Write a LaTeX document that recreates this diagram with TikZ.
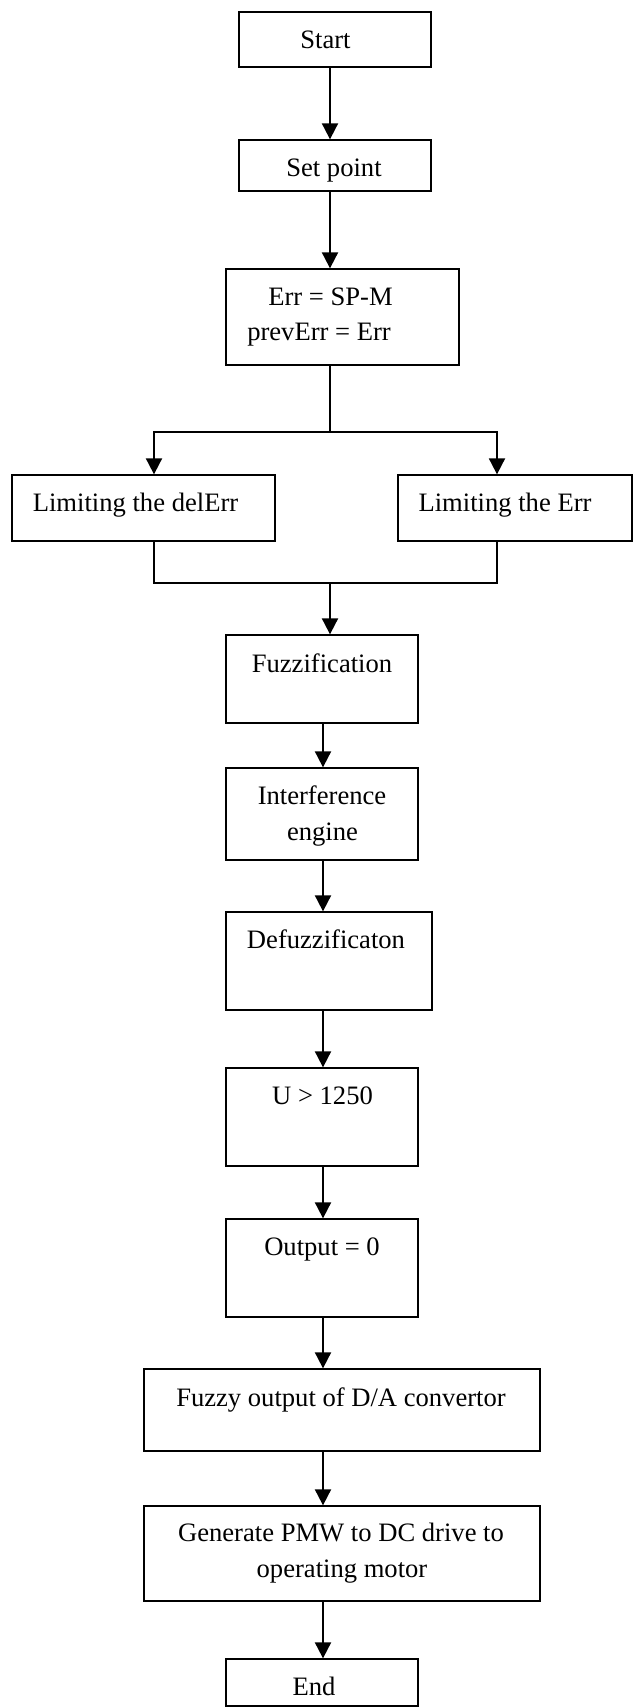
\documentclass[tikz,border=0pt]{standalone}
\usepackage{fontspec}
\setmainfont{Liberation Serif}
\usetikzlibrary{arrows.meta}
\begin{document}
\begin{tikzpicture}[x=0.5pt,y=-0.5pt,
 box/.style={draw,line width=0.65pt,inner sep=0pt,anchor=center},
 txt/.style={font=\fontsize{13.3pt}{18pt}\selectfont,inner sep=0pt,anchor=base},
 arr/.style={line width=0.95pt,-{Triangle[length=8pt,width=8pt]}},
 ln/.style={line width=0.85pt}]
\useasboundingbox (0,0) rectangle (633,1708);
% boxes
\node[box,minimum width=96pt,minimum height=27.5pt] (start) at (335,39.5) {};
\node[box,minimum width=96pt,minimum height=25.5pt] (setpt) at (335,165.5) {};
\node[box,minimum width=116.5pt,minimum height=48pt] (err) at (342.5,317) {};
\node[box,minimum width=131.5pt,minimum height=33pt] (ld) at (143.5,508) {};
\node[box,minimum width=117pt,minimum height=33pt] (le) at (515,508) {};
\node[box,minimum width=96pt,minimum height=44pt] (fuzz) at (322,679) {};
\node[box,minimum width=96pt,minimum height=46pt] (inf) at (322,814) {};
\node[box,minimum width=103pt,minimum height=49pt] (def) at (329,961) {};
\node[box,minimum width=96pt,minimum height=49pt] (ucmp) at (322,1117) {};
\node[box,minimum width=96pt,minimum height=49pt] (outz) at (322,1268) {};
\node[box,minimum width=198pt,minimum height=41pt] (fo) at (342,1410) {};
\node[box,minimum width=198pt,minimum height=47.5pt] (gen) at (342,1553.5) {};
\node[box,minimum width=96pt,minimum height=23.5pt] (endb) at (322,1682.5) {};
% texts
\node[txt] (tstart) at (325.5,48.3) {Start};
\node[txt] (tset) at (334,176) {Set point};
\node[txt] (terr1) at (330.5,305) {Err = SP-M};
\node[txt] (terr2) at (319,340) {prevErr = Err};
\node[txt] (tld) at (135.5,511) {Limiting the delErr};
\node[txt] (tle) at (505,511) {Limiting the Err};
\node[txt] (tfuzz) at (322,672) {Fuzzification};
\node[txt] (tinf1) at (322,804) {Interference};
\node[txt] (tinf2) at (322.5,840) {engine};
\node[txt] (tdef) at (326,948) {Defuzzificaton};
\node[txt] (tu) at (322.5,1104) {U > 1250};
\node[txt] (tout) at (322,1255) {Output = 0};
\node[txt] (tfo) at (341,1406) {Fuzzy output of D/A convertor};
\node[txt] (tgen1) at (341,1541) {Generate PMW to DC drive to};
\node[txt] (tgen2) at (342,1577) {operating motor};
\node[txt] (tend) at (314,1695) {End};
% helper coordinates
\coordinate (cA) at (330,0);
\coordinate (cB) at (323,0);
\coordinate (cT) at (330,432);
\coordinate (cL) at (154,432);
\coordinate (cR) at (497,432);
\coordinate (jL) at (154,583);
\coordinate (jR) at (497,583);
\coordinate (jT) at (330,583);
% connectors
\draw[arr] (start.south -| cA) -- (setpt.north -| cA);
\draw[arr] (setpt.south -| cA) -- (err.north -| cA);
\draw[ln] (err.south -| cA) -- (cT);
\draw[arr] (cT) -- (cL) -- (ld.north -| cL);
\draw[arr] (cT) -- (cR) -- (le.north -| cR);
\draw[ln] (ld.south -| cL) -- (jL) -- (jR) -- (le.south -| cR);
\draw[arr] (jT) -- (fuzz.north -| jT);
\draw[arr] (fuzz.south -| cB) -- (inf.north -| cB);
\draw[arr] (inf.south -| cB) -- (def.north -| cB);
\draw[arr] (def.south -| cB) -- (ucmp.north -| cB);
\draw[arr] (ucmp.south -| cB) -- (outz.north -| cB);
\draw[arr] (outz.south -| cB) -- (fo.north -| cB);
\draw[arr] (fo.south -| cB) -- (gen.north -| cB);
\draw[arr] (gen.south -| cB) -- (endb.north -| cB);
\end{tikzpicture}
\end{document}
